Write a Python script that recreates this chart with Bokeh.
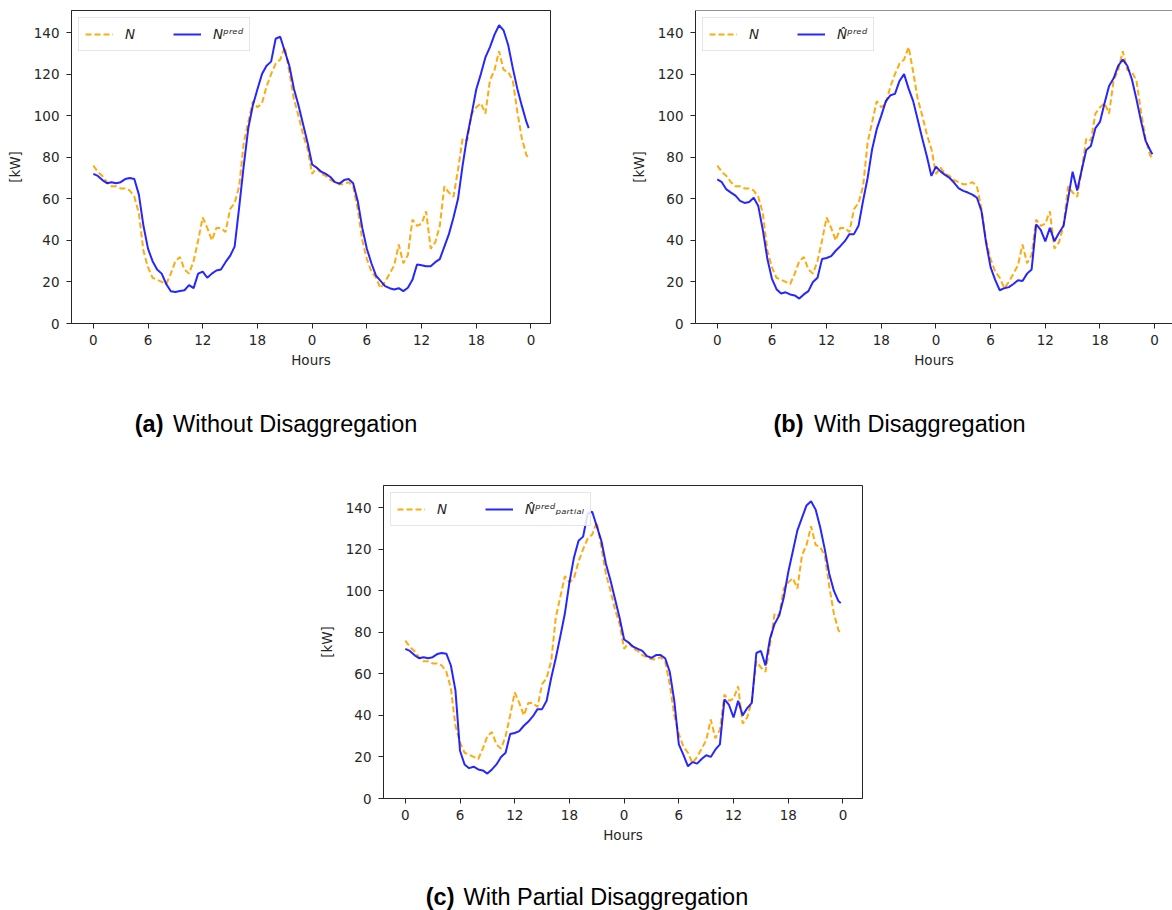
from bokeh.plotting import figure
from bokeh.models import Range1d, FixedTicker, Legend, LegendItem, Spacer, Span
from bokeh.layouts import column, row
from bokeh.embed import file_html
from bokeh.resources import INLINE
from bokeh.core.properties import value

# ---------------- data ----------------
hours = [0.0, 0.5, 1.0, 1.5, 2.0, 2.5, 3.0, 3.5, 4.0, 4.5, 5.0, 5.5,
         6.0, 6.5, 7.0, 7.5, 8.0, 8.5, 9.0, 9.5, 10.0, 10.5, 11.0, 11.5,
         12.0, 12.5, 13.0, 13.5, 14.0, 14.5, 15.0, 15.5, 16.0, 16.5, 17.0, 17.5,
         18.0, 18.5, 19.0, 19.5, 20.0, 20.5, 21.0, 21.5, 22.0, 22.5, 23.0, 23.5,
         24.0, 24.5, 25.0, 25.5, 26.0, 26.5, 27.0, 27.5, 28.0, 28.5, 29.0, 29.5,
         30.0, 30.5, 31.0, 31.5, 32.0, 32.5, 33.0, 33.5, 34.0, 34.5, 35.0, 35.5,
         36.0, 36.5, 37.0, 37.5, 38.0, 38.5, 39.0, 39.5, 40.0, 40.5, 41.0, 41.5,
         42.0, 42.5, 43.0, 43.5, 44.0, 44.5, 45.0, 45.5, 46.0, 46.5, 47.0, 47.5,
         47.75]

n_actual = [76, 73, 71, 68, 66, 66, 65, 65, 64, 61, 53, 35,
            27, 22, 21, 20, 19, 24, 30, 32, 26, 24, 30, 40,
            51, 46, 40, 46, 46, 44, 55, 58, 66, 87, 97, 107,
            104, 106, 114, 120, 125, 127, 133, 121, 108, 100, 91, 84,
            72, 75, 72, 71, 69, 68, 67, 67, 68, 66, 55, 40,
            31, 25, 22, 17, 20, 24, 28, 38, 29, 33, 50, 47,
            48, 54, 36, 39, 47, 66, 63, 61, 74, 89, 88, 101,
            104, 106, 101, 117, 122, 131, 122, 121, 117, 102, 89, 81,
            79.5]

n_pred = [72, 71, 69, 67.5, 68, 67.5, 68, 69.5, 70, 69.5, 62, 47,
          36, 30, 26, 24, 19, 15.5, 15.2, 15.6, 16, 18.5, 17, 24,
          25, 22, 24, 25.5, 26, 29.5, 32.5, 37, 56, 76, 94, 105,
          112.7, 120, 124, 126, 137, 138, 131, 124, 113, 105, 96, 87,
          76.5, 75, 73, 72, 70.5, 68, 67.3, 69, 69.5, 67.5, 59, 46,
          36, 29, 23, 20.5, 18, 17, 16.4, 17, 15.6, 17.2, 21, 28.4,
          28, 27.5, 27.6, 29.5, 31, 37, 43, 51, 60, 76, 90, 101,
          112.7, 120, 128, 133, 139, 143.5, 141, 134, 123, 113, 104.7, 97,
          94]

n_hat_pred = [69.3, 68, 64.5, 63, 61.5, 59, 58, 58.5, 60.5, 56.5, 45, 31,
              21.5, 16.5, 14.4, 15, 14, 13.5, 12, 14, 15.6, 20, 22, 31,
              31.5, 32.4, 35, 37.2, 39.6, 43, 43, 47, 59, 70, 84, 93.5,
              100, 107, 109.8, 110.5, 116.7, 120, 113, 107, 98, 89, 80.5, 71,
              75.5, 73.2, 71.5, 70, 67.7, 65, 63.8, 63, 62, 60.5, 54, 38.8,
              27, 21, 16, 17, 17.5, 19, 20.8, 20.4, 24, 26, 47.7, 45,
              39.5, 46, 39.6, 43.5, 47, 60, 73, 64, 74, 83.5, 85.4, 94,
              97, 106, 114.3, 118, 124, 127, 124, 117.5, 108, 97.5, 88, 83.5,
              81.4]

n_hat_partial = [72, 71, 69, 67.5, 68, 67.5, 68, 69.5, 70, 69.7, 64, 52,
                 23, 16.4, 14.6, 15.3, 14, 13.5, 12, 14, 16.4, 20, 22, 31,
                 31.5, 32.4, 35, 37, 39.6, 43, 43, 47, 58, 67.5, 78, 89,
                 104, 116, 124, 126, 137, 138, 131, 124, 113, 105, 96, 87,
                 76.5, 75, 73, 72, 71, 68.5, 67.7, 69, 69, 67.5, 61, 47,
                 26, 21, 15.5, 17.5, 16.8, 19, 20.8, 20, 23.5, 26, 47.7, 45,
                 39, 47, 40, 43.5, 46, 70, 71, 64, 77, 84, 88, 96.6,
                 109, 119, 129, 135, 141, 143, 139, 130.5, 120, 108, 100, 95,
                 94]

tick_hours = [0, 6, 12, 18, 24, 30, 36, 42, 48]
tick_labels = ["0", "6", "12", "18", "0", "6", "12", "18", "0"]
kw_ticks = [0, 20, 40, 60, 80, 100, 120, 140]

pred_labels = ["N\u1d56\u02b3\u1d49\u1d48",
               "N\u0302\u1d56\u02b3\u1d49\u1d48",
               "N\u0302\u1d56\u02b3\u1d49\u1d48\u209a\u2090\u1d63\u209c\u1d62\u2090\u2097"]
pred_series = [n_pred, n_hat_pred, n_hat_partial]
caption_tags = ["(a)", "(b)", "(c)"]
caption_texts = ["Without Disaggregation", "With Disaggregation",
                 "With Partial Disaggregation"]

# ---------------- styling ----------------
FONT = "DejaVu Sans"
FS = "13.5px"
AX = "#262626"
ORANGE = "#ffa500"
BLUE = "#0000ff"
Y_TOP = 150.6


def make_panel(pred, pred_label, width, top, bottom, right, x_end, open_right=False):
    p = figure(width=width, height=380, output_backend="svg",
               toolbar_location=None,
               x_range=Range1d(-2.39, x_end), y_range=Range1d(0, Y_TOP),
               min_border_left=71, min_border_right=right,
               min_border_top=top, min_border_bottom=bottom)
    p.grid.visible = False
    p.background_fill_color = "white"
    p.border_fill_color = "white"
    if open_right:
        # the reference cuts this panel at the window edge: no right spine visible
        p.outline_line_color = None
        p.add_layout(Span(location=Y_TOP, dimension="width",
                          line_color=AX, line_width=1))
    else:
        p.outline_line_color = AX
        p.outline_line_width = 1

    r_act = p.line(hours, n_actual, line_color=ORANGE, line_width=2,
                   line_dash="6 3", line_alpha=0.95)
    r_pred = p.line(hours, pred, line_color=BLUE, line_width=2,
                    line_alpha=0.85)

    for ax in (p.xaxis, p.yaxis):
        ax.axis_line_color = AX
        ax.major_tick_line_color = AX
        ax.minor_tick_line_color = None
        ax.major_tick_out = 5
        ax.major_tick_in = 0
        ax.major_label_text_font = FONT
        ax.major_label_text_font_size = FS
        ax.major_label_text_color = AX
        ax.axis_label_text_font = FONT
        ax.axis_label_text_font_size = FS
        ax.axis_label_text_font_style = "normal"
        ax.axis_label_text_color = AX

    p.xaxis.ticker = FixedTicker(ticks=tick_hours)
    p.xaxis.major_label_overrides = {h: lab for h, lab in zip(tick_hours, tick_labels)}
    p.xaxis.major_label_standoff = 6
    p.xaxis.axis_label = "Hours"
    p.xaxis.axis_label_standoff = 4

    p.yaxis.ticker = FixedTicker(ticks=kw_ticks)
    p.yaxis.major_label_standoff = 7
    p.yaxis.axis_label = "[kW]"
    p.yaxis.axis_label_standoff = 8

    legend = Legend(items=[LegendItem(label="N", renderers=[r_act]),
                           LegendItem(label=pred_label, renderers=[r_pred])],
                    location="top_left", orientation="horizontal",
                    margin=7, padding=6, spacing=28, glyph_width=28,
                    label_standoff=12,
                    label_text_font=FONT, label_text_font_size=FS,
                    label_text_font_style="italic", label_text_color=AX,
                    border_line_color="#cccccc", border_line_width=1,
                    background_fill_alpha=0.85)
    p.add_layout(legend)
    return p


fig_a = make_panel(pred_series[0], pred_labels[0], 624, 10, 57, 74, 50.14)
fig_b = make_panel(pred_series[1], pred_labels[1], 548, 10, 57, 0, 49.96, open_right=True)
fig_c = make_panel(pred_series[2], pred_labels[2], 560, 15, 52, 10, 50.14)


def caption_fig(height, entries):
    c = figure(width=1172, height=height, output_backend="svg",
               toolbar_location=None, x_axis_type=None, y_axis_type=None,
               x_range=Range1d(0, 1172), y_range=Range1d(height, 0),
               min_border=0)
    c.grid.visible = False
    c.outline_line_color = None
    for tag, txt, xt, xs, yb in entries:
        c.text(x=[xt], y=[yb], text=[tag], text_align="right",
               text_baseline="alphabetic", text_font=value("Liberation Sans"),
               text_font_style="bold", text_font_size="23.5px",
               text_color="black")
        c.text(x=[xs], y=[yb], text=[txt], text_align="left",
               text_baseline="alphabetic", text_font=value("Liberation Sans"),
               text_font_style="normal", text_font_size="23.5px",
               text_color="black")
    return c


cap_ab = caption_fig(90, [(caption_tags[0], caption_texts[0], 163, 172.5, 43.5),
                          (caption_tags[1], caption_texts[1], 803, 813.5, 43.5)])
cap_c = caption_fig(60, [(caption_tags[2], caption_texts[2], 454, 463, 46.0)])

layout = column(row(fig_a, fig_b),
                cap_ab,
                row(Spacer(width=312, height=380), fig_c),
                cap_c)

open("out.html", "w").write(file_html(layout, INLINE))
